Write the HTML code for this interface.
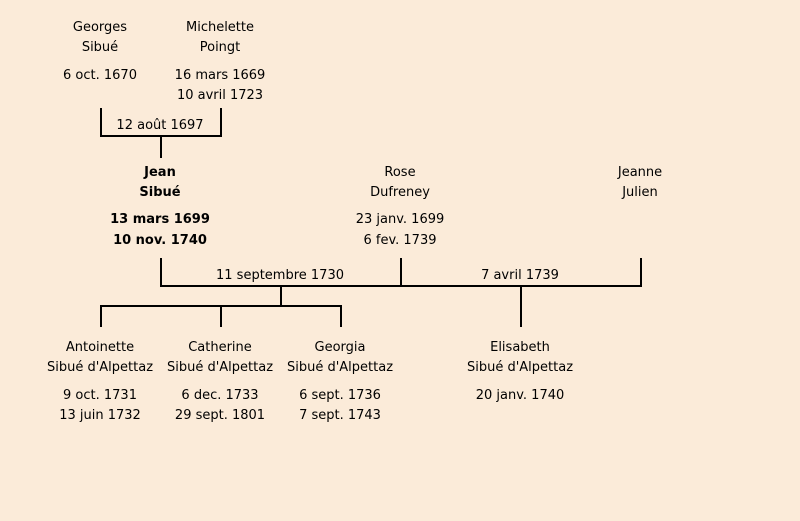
<!DOCTYPE html>
<html><head><meta charset="utf-8"><style>
body{margin:0;width:800px;height:521px;background:#FBEBD9;position:relative;overflow:hidden;font-family:"Comic Sans MS","DejaVu Sans","Liberation Sans",sans-serif;font-size:13px;color:#000}
.t{position:absolute;width:200px;text-align:center;line-height:16px;white-space:nowrap;margin-top:1px}
.b{font-weight:bold}
svg{position:absolute;left:0;top:0}
</style></head><body>
<svg width="800" height="521"><g stroke="#000" stroke-width="2" fill="none">
<path d="M101 108V136H221V108M161 136V158"/>
<path d="M161 258V286H641V258M401 258V286M281 286V306M101 327V306H341V327M221 306V327M521 286V327"/>
</g></svg>
<div class="t" style="left:0;top:19px">Georges</div>
<div class="t" style="left:0;top:39px">Sibué</div>
<div class="t" style="left:0;top:67px">6 oct. 1670</div>
<div class="t" style="left:120px;top:19px">Michelette</div>
<div class="t" style="left:120px;top:39px">Poingt</div>
<div class="t" style="left:120px;top:67px">16 mars 1669</div>
<div class="t" style="left:120px;top:87px">10 avril 1723</div>
<div class="t" style="left:60px;top:117px">12 août 1697</div>
<div class="t b" style="left:60px;top:164px">Jean</div>
<div class="t b" style="left:60px;top:184px">Sibué</div>
<div class="t b" style="left:60px;top:211px">13 mars 1699</div>
<div class="t b" style="left:60px;top:232px">10 nov. 1740</div>
<div class="t" style="left:300px;top:164px">Rose</div>
<div class="t" style="left:300px;top:184px">Dufreney</div>
<div class="t" style="left:300px;top:211px">23 janv. 1699</div>
<div class="t" style="left:300px;top:232px">6 fev. 1739</div>
<div class="t" style="left:540px;top:164px">Jeanne</div>
<div class="t" style="left:540px;top:184px">Julien</div>
<div class="t" style="left:180px;top:267px">11 septembre 1730</div>
<div class="t" style="left:420px;top:267px">7 avril 1739</div>
<div class="t" style="left:0;top:339px">Antoinette</div>
<div class="t" style="left:0;top:359px">Sibué d'Alpettaz</div>
<div class="t" style="left:0;top:387px">9 oct. 1731</div>
<div class="t" style="left:0;top:407px">13 juin 1732</div>
<div class="t" style="left:120px;top:339px">Catherine</div>
<div class="t" style="left:120px;top:359px">Sibué d'Alpettaz</div>
<div class="t" style="left:120px;top:387px">6 dec. 1733</div>
<div class="t" style="left:120px;top:407px">29 sept. 1801</div>
<div class="t" style="left:240px;top:339px">Georgia</div>
<div class="t" style="left:240px;top:359px">Sibué d'Alpettaz</div>
<div class="t" style="left:240px;top:387px">6 sept. 1736</div>
<div class="t" style="left:240px;top:407px">7 sept. 1743</div>
<div class="t" style="left:420px;top:339px">Elisabeth</div>
<div class="t" style="left:420px;top:359px">Sibué d'Alpettaz</div>
<div class="t" style="left:420px;top:387px">20 janv. 1740</div>
</body></html>
